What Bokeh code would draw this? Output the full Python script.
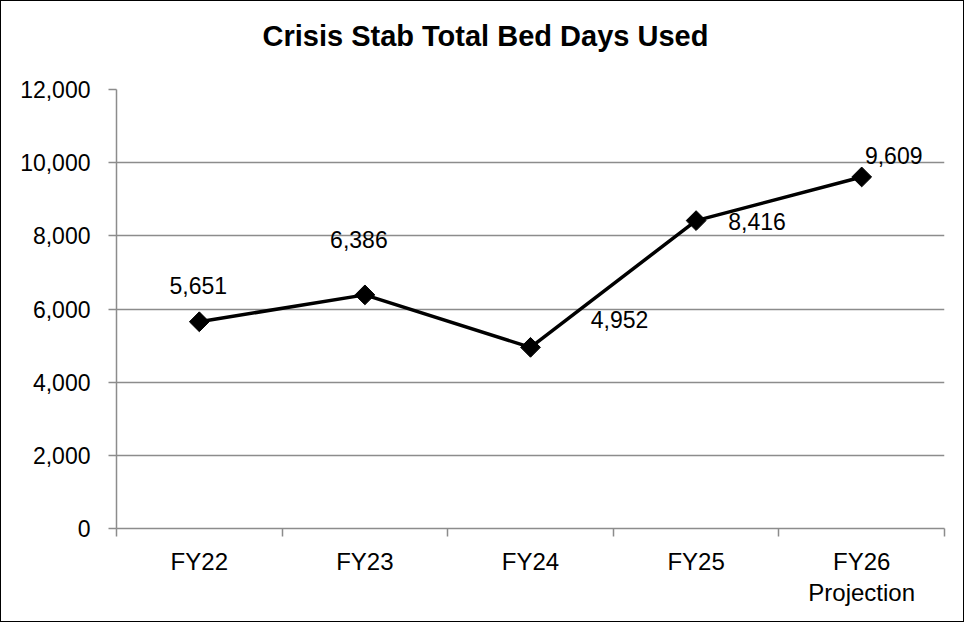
import math
from bokeh.plotting import figure
from bokeh.models import (ColumnDataSource, FixedTicker, NumeralTickFormatter,
                          Range1d, Title)
from bokeh.embed import file_html
from bokeh.resources import INLINE
from bokeh.core.properties import value

# ---- data ----
categories = ["FY22", "FY23", "FY24", "FY25", "FY26\nProjection"]
bed_days = [5651, 6386, 4952, 8416, 9609]
y_ticks = [0, 2000, 4000, 6000, 8000, 10000, 12000]
title_text = "Crisis Stab Total Bed Days Used"

# ---- label placement (screen px) ----
label_dx = [-1, -6, 89, 61, 32]
label_dy = [-36, -55, -28, 1, -21]

FONT = "Liberation Sans"
GRAY = "#8c8c8c"

xs = [i + 1 for i in range(len(categories))]
src = ColumnDataSource(dict(
    x=xs, y=bed_days,
    txt=[f"{v:,}" for v in bed_days],
    dx=label_dx, dy=label_dy,
))

W, H = 964, 622
p = figure(width=W, height=H, output_backend="svg", toolbar_location=None,
           x_range=Range1d(0.5, len(categories) + 0.5),
           y_range=Range1d(y_ticks[0], y_ticks[-1]),
           min_border_left=115, min_border_right=21,
           min_border_top=88, min_border_bottom=95)
p.styles = {"border": "1px solid #000000"}
p.outline_line_color = None
p.background_fill_color = "white"
p.border_fill_color = "white"

# spacer panel between the frame and the title
p.add_layout(Title(text=" ", text_font_size="22px", standoff=6), "above")

# title
p.title.text = title_text
p.title.align = "left"
p.title.offset = 146
p.title.text_font = FONT
p.title.text_font_size = "29px"
p.title.text_font_style = "bold"
p.title.text_color = "#000000"
p.title.standoff = 10

# grid
p.xgrid.visible = False
p.ygrid.ticker = FixedTicker(ticks=y_ticks)
p.ygrid.grid_line_color = GRAY
p.ygrid.grid_line_width = 1.5

# y axis
ya = p.yaxis[0]
ya.ticker = FixedTicker(ticks=y_ticks)
ya.formatter = NumeralTickFormatter(format="0,0")
ya.axis_line_color = GRAY
ya.axis_line_width = 1.5
ya.major_tick_line_color = GRAY
ya.major_tick_line_width = 1.5
ya.major_tick_out = 8
ya.major_tick_in = 0
ya.minor_tick_line_color = None
ya.major_label_text_font = FONT
ya.major_label_text_font_size = "23px"
ya.major_label_text_color = "#000000"
ya.major_label_standoff = 18

# x axis
xa = p.xaxis[0]
bounds = [i + 0.5 for i in range(len(categories) + 1)]
xa.ticker = FixedTicker(ticks=xs, minor_ticks=bounds)
xa.major_label_overrides = {x: c for x, c in zip(xs, categories)}
xa.axis_line_color = GRAY
xa.axis_line_width = 1.5
xa.major_tick_out = 0
xa.major_tick_in = 0
xa.major_tick_line_color = None
xa.minor_tick_line_color = GRAY
xa.minor_tick_line_width = 1.5
xa.minor_tick_out = 8
xa.minor_tick_in = 0
xa.major_label_text_font = FONT
xa.major_label_text_font_size = "24px"
xa.major_label_text_color = "#000000"
xa.major_label_text_line_height = 1.15
xa.major_label_standoff = 11

# series
p.line("x", "y", source=src, line_color="black", line_width=3.5)
p.scatter("x", "y", source=src, marker="square", size=14, angle=math.pi / 4,
          fill_color="black", line_color="black")
p.text("x", "y", text="txt", source=src, x_offset="dx", y_offset="dy",
       text_align="center", text_baseline="middle",
       text_font=value(FONT), text_font_size="23px", text_color="#000000")

open("out.html", "w").write(file_html(p, INLINE))
